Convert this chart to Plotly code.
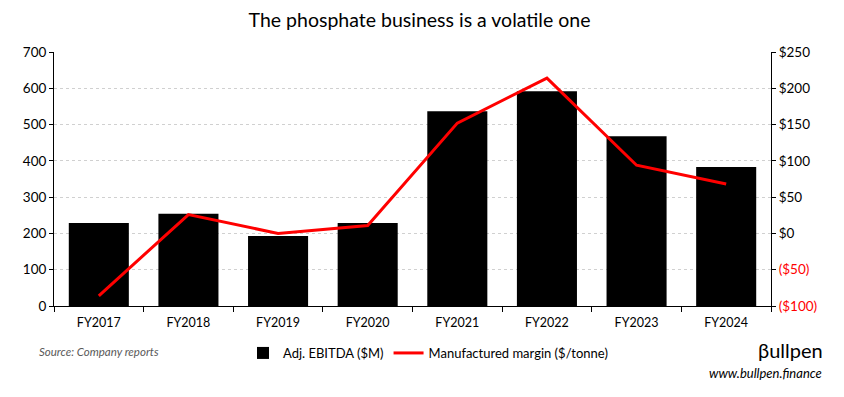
import plotly.graph_objects as go

categories = ["FY2017", "FY2018", "FY2019", "FY2020", "FY2021", "FY2022", "FY2023", "FY2024"]
ebitda = [229, 254, 193, 229, 537, 592, 468, 383]
margin = [-86, 26, 0, 11, 152, 214, 94, 68]
left_ticks = [0, 100, 200, 300, 400, 500, 600, 700]
right_ticks = [-100, -50, 0, 50, 100, 150, 200, 250]
right_labels = ['<span style="color:#ff0000">($100)</span>', '<span style="color:#ff0000">($50)</span>',
                "$0", "$50", "$100", "$150", "$200", "$250"]

FONT = "Lato, Open Sans, sans-serif"

fig = go.Figure()
fig.add_trace(go.Bar(x=categories, y=ebitda, name="Adj. EBITDA ($M)",
                     marker=dict(color="black", line=dict(width=0)), width=0.67))
fig.add_trace(go.Scatter(x=categories, y=margin, name="Manufactured margin ($/tonne)",
                         mode="lines", line=dict(color="#ff0000", width=3), yaxis="y2"))

# page body adds an 8px margin, so the figure is 8px smaller and shifted
fig.update_layout(
    width=836, height=389,
    margin=dict(l=46, r=73, t=44, b=91),
    paper_bgcolor="white", plot_bgcolor="white",
    font=dict(family=FONT, size=12, color="black"),
    title=dict(text="The phosphate business is a volatile one", x=0.5098, xanchor="center",
               xref="paper", y=0.969, yanchor="middle",
               font=dict(size=19.5, family=FONT, color="black")),
    showlegend=True,
    legend=dict(orientation="h", x=0.5216, xanchor="center", y=-0.185, yanchor="middle",
                font=dict(size=13, family=FONT), traceorder="normal"),
    xaxis=dict(showline=True, linecolor="black", linewidth=1, ticks="outside",
               tickson="boundaries", ticklen=5, tickcolor="black", showgrid=False,
               ticklabelstandoff=5, tickfont=dict(size=12.5)),
    yaxis=dict(range=[0, 700], tickvals=left_ticks, showline=True, linecolor="black",
               linewidth=1, ticks="outside", ticklen=4, tickcolor="black",
               showgrid=True, gridcolor="#d0d0d0", griddash="dot", gridwidth=1,
               zeroline=False, tickfont=dict(size=13.5)),
    yaxis2=dict(range=[-100, 250], tickvals=right_ticks, ticktext=right_labels,
                overlaying="y", side="right", showline=True, linecolor="black",
                linewidth=1, ticks="outside", ticklen=4, tickcolor="black",
                showgrid=False, zeroline=False, tickfont=dict(size=13.5)),
)

fig.add_annotation(text="<i>Source: Company reports</i>", xref="paper", yref="paper",
                   x=-0.0237, y=-0.181, xanchor="left", yanchor="middle", showarrow=False,
                   font=dict(size=11.5, color="#595959", family=FONT))
fig.add_annotation(text="βullpen", xref="paper", yref="paper",
                   x=1.0753, y=-0.173, xanchor="right", yanchor="middle", showarrow=False,
                   font=dict(size=20, color="black", family=FONT))
fig.add_annotation(text="<i>www.bullpen.finance</i>", xref="paper", yref="paper",
                   x=1.074, y=-0.264, xanchor="right", yanchor="middle", showarrow=False,
                   font=dict(size=13, color="black", family=FONT))

fig.write_html("out.html")
